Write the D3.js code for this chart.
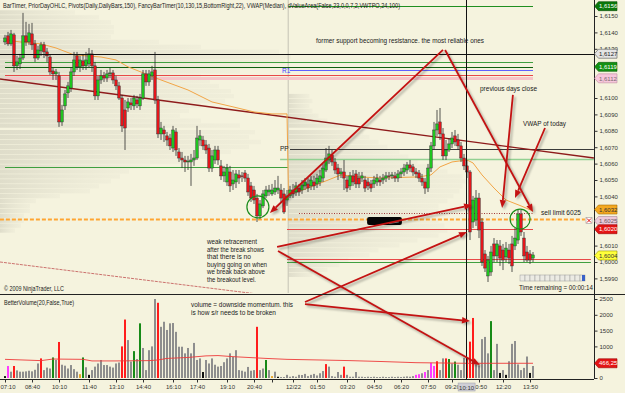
<!DOCTYPE html>
<html>
<head>
<meta charset="utf-8">
<script src="https://d3js.org/d3.v7.min.js"></script>
<style>
  body { margin: 0; background: #f5f3de; }
  svg { display: block; font-family: "Liberation Sans", Arial, sans-serif; }
</style>
</head>
<body>
<svg id="chart" width="625" height="393"></svg>
<script>
// candles: [open, high, low, close]
var candles = [
[1.61342,1.61385,1.61324,1.61366],[1.61379,1.61403,1.61318,1.61330],[1.61330,1.61415,1.61318,1.61391],[1.61385,1.61397,1.61159,1.61196],
[1.61196,1.61257,1.61171,1.61220],[1.61208,1.61269,1.61177,1.61244],[1.61244,1.61519,1.61232,1.61379],[1.61379,1.61464,1.61318,1.61342],
[1.61342,1.61452,1.61324,1.61397],[1.61391,1.61458,1.61293,1.61324],[1.61330,1.61354,1.61220,1.61244],[1.61244,1.61318,1.61232,1.61293],
[1.61287,1.61342,1.61257,1.61324],[1.61324,1.61342,1.61244,1.61281],[1.61281,1.61305,1.61220,1.61257],[1.61250,1.61263,1.61141,1.61159],
[1.61165,1.61183,1.61110,1.61147],[1.61147,1.61177,1.61110,1.61159],[1.61135,1.61159,1.60824,1.60854],[1.60854,1.60958,1.60830,1.60927],
[1.60952,1.61049,1.60927,1.61025],[1.61031,1.61098,1.61000,1.61074],[1.61061,1.61183,1.61037,1.61159],[1.61159,1.61281,1.61135,1.61232],
[1.61257,1.61281,1.61171,1.61190],[1.61190,1.61257,1.61159,1.61232],[1.61226,1.61263,1.61171,1.61196],[1.61196,1.61281,1.61171,1.61232],
[1.61208,1.61305,1.61183,1.61269],[1.61269,1.61293,1.61159,1.61196],[1.61196,1.61220,1.60988,1.61013],[1.61013,1.61135,1.60988,1.61110],
[1.61110,1.61171,1.61086,1.61135],[1.61135,1.61159,1.61098,1.61122],[1.61122,1.61171,1.61098,1.61147],[1.61147,1.61183,1.61122,1.61153],
[1.61153,1.61171,1.61086,1.61110],[1.61110,1.61135,1.61049,1.61074],[1.61074,1.61098,1.60988,1.61000],[1.61000,1.61019,1.60793,1.60830],
[1.60927,1.60988,1.60683,1.60817],[1.60939,1.61000,1.60915,1.60976],[1.60970,1.61000,1.60927,1.60958],[1.60952,1.61019,1.60927,1.61000],
[1.60988,1.61013,1.60939,1.60964],[1.60952,1.61025,1.60927,1.61000],[1.61000,1.61171,1.60988,1.61147],[1.61147,1.61171,1.61074,1.61098],
[1.61098,1.61171,1.61074,1.61147],[1.61135,1.61196,1.61110,1.61159],[1.61171,1.61281,1.60964,1.60988],[1.60988,1.61013,1.60756,1.60781],
[1.60781,1.60854,1.60744,1.60817],[1.60805,1.60830,1.60732,1.60781],[1.60769,1.60793,1.60708,1.60744],[1.60756,1.60781,1.60683,1.60708],
[1.60695,1.60830,1.60671,1.60805],[1.60793,1.60817,1.60647,1.60683],[1.60671,1.60695,1.60610,1.60634],[1.60634,1.60671,1.60573,1.60622],
[1.60622,1.60647,1.60549,1.60610],[1.60610,1.60647,1.60561,1.60616],[1.60610,1.60659,1.60464,1.60622],[1.60622,1.60683,1.60586,1.60634],
[1.60634,1.60830,1.60622,1.60756],[1.60744,1.60805,1.60708,1.60769],[1.60744,1.60769,1.60683,1.60708],[1.60714,1.60744,1.60659,1.60683],
[1.60695,1.60720,1.60549,1.60573],[1.60573,1.60683,1.60549,1.60647],[1.60622,1.60708,1.60598,1.60683],[1.60683,1.60708,1.60592,1.60622],
[1.60586,1.60622,1.60500,1.60525],[1.60525,1.60586,1.60488,1.60549],[1.60488,1.60598,1.60464,1.60573],[1.60549,1.60586,1.60427,1.60464],
[1.60476,1.60561,1.60439,1.60500],[1.60488,1.60561,1.60451,1.60537],[1.60531,1.60561,1.60476,1.60512],[1.60525,1.60549,1.60488,1.60522],
[1.60543,1.60561,1.60488,1.60512],[1.60512,1.60537,1.60403,1.60427],[1.60464,1.60488,1.60366,1.60390],[1.60439,1.60464,1.60354,1.60378],
[1.60390,1.60415,1.60244,1.60281],[1.60281,1.60378,1.60262,1.60354],[1.60342,1.60439,1.60329,1.60415],[1.60403,1.60464,1.60390,1.60439],
[1.60427,1.60470,1.60403,1.60439],[1.60415,1.60476,1.60403,1.60439],[1.60427,1.60500,1.60409,1.60451],[1.60439,1.60525,1.60415,1.60451],
[1.60439,1.60476,1.60366,1.60390],[1.60415,1.60451,1.60293,1.60305],[1.60378,1.60439,1.60342,1.60403],[1.60403,1.60464,1.60390,1.60439],
[1.60439,1.60476,1.60390,1.60415],[1.60427,1.60488,1.60403,1.60464],[1.60451,1.60476,1.60403,1.60427],[1.60439,1.60500,1.60415,1.60470],
[1.60464,1.60512,1.60439,1.60488],[1.60476,1.60512,1.60427,1.60451],[1.60464,1.60525,1.60439,1.60500],[1.60488,1.60525,1.60439,1.60464],
[1.60476,1.60537,1.60451,1.60512],[1.60488,1.60561,1.60464,1.60525],[1.60512,1.60598,1.60488,1.60573],[1.60561,1.60695,1.60549,1.60634],
[1.60622,1.60708,1.60598,1.60659],[1.60653,1.60683,1.60586,1.60610],[1.60610,1.60634,1.60537,1.60561],[1.60573,1.60598,1.60500,1.60537],
[1.60537,1.60573,1.60512,1.60549],[1.60549,1.60622,1.60439,1.60512],[1.60500,1.60525,1.60427,1.60451],[1.60464,1.60549,1.60439,1.60525],
[1.60525,1.60561,1.60464,1.60488],[1.60537,1.60561,1.60451,1.60476],[1.60512,1.60549,1.60451,1.60476],[1.60512,1.60549,1.60488,1.60525],
[1.60500,1.60525,1.60427,1.60451],[1.60488,1.60512,1.60439,1.60464],[1.60476,1.60500,1.60427,1.60451],[1.60476,1.60525,1.60451,1.60500],
[1.60488,1.60537,1.60464,1.60512],[1.60500,1.60525,1.60464,1.60488],[1.60500,1.60537,1.60476,1.60512],[1.60512,1.60549,1.60488,1.60525],
[1.60525,1.60549,1.60500,1.60522],[1.60525,1.60549,1.60506,1.60531],[1.60525,1.60549,1.60488,1.60512],[1.60512,1.60561,1.60488,1.60537],
[1.60537,1.60573,1.60512,1.60549],[1.60549,1.60598,1.60525,1.60573],[1.60561,1.60610,1.60537,1.60592],[1.60592,1.60622,1.60549,1.60573],
[1.60580,1.60598,1.60525,1.60549],[1.60549,1.60573,1.60512,1.60537],[1.60543,1.60561,1.60488,1.60512],[1.60512,1.60537,1.60464,1.60488],
[1.60488,1.60512,1.60415,1.60451],[1.60451,1.60598,1.60427,1.60573],[1.60573,1.60732,1.60549,1.60708],[1.60708,1.60854,1.60683,1.60805],
[1.60805,1.60927,1.60769,1.60842],[1.60854,1.60939,1.60744,1.60781],[1.60781,1.60817,1.60622,1.60647],[1.60647,1.60744,1.60622,1.60683],
[1.60683,1.60756,1.60671,1.60720],[1.60720,1.60793,1.60695,1.60756],[1.60769,1.60805,1.60708,1.60732],[1.60744,1.60781,1.60683,1.60708],
[1.60708,1.60732,1.60610,1.60634],[1.60634,1.60659,1.60561,1.60586],[1.60586,1.60622,1.60512,1.60549],[1.60549,1.60561,1.60134,1.60183],
[1.60244,1.60403,1.60207,1.60378],[1.60256,1.60439,1.60220,1.60390],[1.60390,1.60421,1.60146,1.60195],[1.60244,1.60268,1.59976,1.60000],
[1.60049,1.60073,1.59939,1.59963],[1.59915,1.60037,1.59878,1.60012],[1.59939,1.60098,1.59915,1.60061],[1.60110,1.60146,1.60000,1.60037],
[1.60037,1.60134,1.60000,1.60110],[1.60098,1.60134,1.59976,1.60024],[1.60073,1.60110,1.59951,1.60012],[1.60031,1.60122,1.60000,1.60085],
[1.60073,1.60110,1.59988,1.60024],[1.60110,1.60159,1.59939,1.59976],[1.60098,1.60207,1.60073,1.60146],[1.60134,1.60317,1.60110,1.60293],
[1.60293,1.60317,1.60159,1.60183],[1.60146,1.60183,1.60000,1.60037],[1.60061,1.60098,1.60000,1.60012],[1.60049,1.60073,1.59988,1.60012],
[1.60024,1.60061,1.60000,1.60043]
];

var volumes = [
60,380,200,380,240,200,200,210,230,210, 260,460,620,250,330,300,650,570,1140,420,
390,300,410,280,200,120,650,340,100,250, 360,460,570,410,410,360,330,460,490,1000,
1850,1200,520,850,600,1730,950,250,880,1000, 2500,2380,1620,1780,1520,1730,1740,1460,990,990,
780,950,780,1110,570,620,190,570,460,620, 420,360,380,500,620,780,670,880,250,230,
200,350,230,250,1620,250,300,570,250,60, 200,40,30,30,100,40,60,40,100,95,
130,60,100,130,80,150,220,440,360,60, 40,190,100,360,100,40,40,190,40,40,
30,40,30,40,30,30,40,30,30,40, 30,40,30,40,50,40,60,100,120,150,
190,250,480,380,530,250,620,620,600,460, 520,420,250,640,650,1150,1900,430,400,1230,
1300,780,1800,250,1080,160,250,100,530,1080, 1170,430,250,320,680,160,380
];

// BetterVolume bar type: n neutral, r red, g green, k black, m magenta, o orange
var volumeKinds = [
"k","m","n","r","n","n","n","n","n","n", "n","n","r","n","n","n","g","n","r","n",
"n","n","n","n","n","o","g","n","k","n", "n","n","n","n","n","n","n","n","n","r",
"r","n","n","g","n","g","n","n","n","n", "n","r","n","n","n","n","n","n","n","n",
"n","n","n","n","n","n","k","n","n","n", "n","n","n","n","n","n","n","n","n","n",
"n","n","n","n","r","n","n","g","n","o", "n","k","n","n","n","n","n","n","n","n",
"n","n","n","n","n","n","n","r","n","n", "n","n","n","r","n","n","n","n","n","n",
"n","n","n","n","n","n","n","n","n","n", "n","n","n","n","n","n","n","m","m","n",
"m","n","m","m","r","n","n","r","g","n", "g","n","n","n","r","r","r","n","n","n",
"n","n","g","n","n","k","n","k","n","n", "n","n","n","n","n","k","n"
];

// [bar, volume] points of the volume average
var volumeAverage = [[0,590],[12,550],[16,600],[26,590],[29,540],[37,540],[48,550],[51,570],[54,620],[61,650],
  [67,700],[71,710],[76,675],[83,640],[87,620],[94,590],[105,570],[115,550],[126,520],[137,485],[154,465],[176,466]];

// [bar, price] points of the session VWAP
var vwapDay1 = [[0,1.61354],[5,1.61342],[12,1.61330],[17,1.61305],[23,1.61263],[32,1.61250],[37,1.61232],[41,1.61190],
  [52,1.61110],[61,1.61049],[69,1.60976],[76,1.60946],[83,1.60915],[89,1.60903],[94,1.60903]];
var vwapDay2 = [[94.5,1.60409],[101,1.60451],[112,1.60531],[118,1.60519],[125,1.60512],[138,1.60519],[142,1.60531],
  [145,1.60580],[149,1.60610],[154,1.60622],[156,1.60604],[159,1.60531],[163,1.60451],[167,1.60378],[172,1.60342],[176,1.60311]];

// value area profile rows: [price, tpo count]
var profileDay1 = [[1.6152,25],[1.6149,33],[1.6146,37],[1.6143,38],[1.6140,38],[1.6137,37],[1.6134,53],[1.6131,67],
  [1.6128,93],[1.6125,97],[1.6122,95],[1.6119,90],[1.6116,80],[1.6113,67],[1.6110,70],[1.6107,73],[1.6104,77],
  [1.6101,78],[1.6098,75],[1.6095,67],[1.6092,63],[1.6089,60],[1.6086,67],[1.6083,80],[1.6079,85],[1.6076,83],
  [1.6073,87],[1.6070,83],[1.6067,77],[1.6064,70],[1.6061,60],[1.6058,50],[1.6055,43],[1.6052,40],[1.6049,37],
  [1.6046,33],[1.6043,30],[1.6040,20],[1.6037,12],[1.6034,10],[1.6031,10],[1.6028,8],[1.6025,8],[1.6022,7],[1.6019,5]];
var profileDay2 = [[1.6101,7],[1.6098,8],[1.6095,7],[1.6092,8],[1.6089,10],[1.6086,13],[1.6083,20],[1.6079,25],
  [1.6076,27],[1.6073,30],[1.6070,33],[1.6067,37],[1.6064,40],[1.6061,43],[1.6058,50],[1.6055,53],[1.6052,58],
  [1.6049,60],[1.6046,58],[1.6043,57],[1.6040,55],[1.6037,53],[1.6034,50],[1.6031,50],[1.6028,48],[1.6025,50],
  [1.6022,52],[1.6019,53],[1.6016,50],[1.6013,43],[1.6010,37],[1.6007,30],[1.6004,27],[1.6001,20],[1.5998,17],
  [1.5995,13],[1.5992,8]];

var timeLabels = ["07:10","08:40","10:10","11:40","13:10","14:40","16:10","17:40","19:10","20:40","","12/22",
  "01:50","03:20","04:50","06:20","07:50","09:20","10:50","12:20","13:50"];
var timeIndex = [0,9,18,28,37,46,56,64,74,83,89,96,104,114,123,132,141,149,158,166,175];

// labels hidden behind the price tags are left out
var priceTicks = [1.599,1.600,1.601,1.604,1.605,1.606,1.607,1.608,1.609,1.610,1.613,1.614,1.615];
var volumeTicks = [0,1000,1500,2000,2500];

// horizontal levels: price, first bar, last bar, kind
var levels = [
  {p:1.6156, from:94.5, to:176, kind:"priorHigh"},
  {p:1.6122, from:0, to:176, kind:"green"},
  {p:1.6119, from:0, to:176, kind:"darkGreen"},
  {p:1.6117, from:95, to:176, kind:"r1"},
  {p:1.6114, from:0, to:176, kind:"red"},
  {p:1.6112, from:0, to:176, kind:"pink"},
  {p:1.6069, from:95, to:196.3, kind:"pp"},
  {p:1.6063, from:91.7, to:196.3, kind:"lightGreen"},
  {p:1.6058, from:0, to:94.3, kind:"green"},
  {p:1.6030, from:98, to:176, kind:"prevClose"},
  {p:1.6026, from:-1.7, to:193.3, kind:"order"},
  {p:1.6020, from:94, to:176, kind:"red"},
  {p:1.6002, from:94, to:195.3, kind:"red"},
  {p:1.6000, from:94, to:195.3, kind:"green"}
];

var trendLines = [
  {a:[-1.67,1.61116], b:[196.3,1.60634], kind:"trend"},
  {a:[-1.67,1.60000], b:[95,1.59780], kind:"channel"}
];

var tags = [
  {p:1.6156, text:"1,6156", kind:"high"},
  {p:1.6127, text:"1,6127", kind:"cross"},
  {p:1.6119, text:"1,6119", kind:"level"},
  {p:1.6112, text:"1,6112", kind:"pink"},
  {p:1.6032, text:"1,6032", kind:"vwap"},
  {p:1.6025, text:"1,6025", kind:"order"},
  {p:1.6020, text:"1,6020", kind:"low"},
  {p:1.6004, text:"1,6004", kind:"last"}
];

var crossBar = 153.7, crossPrice = 1.6127, crossLabel = "10:10";
var lastVolumeAverage = "466,25";

// drawing objects anchored on bar / price (or bar / volume)
var arrows = [
  {from:{i:146,p:1.61293}, to:{i:88.3,p:1.60299}},
  {from:{i:146.7,p:1.61293}, to:{i:176,p:1.60305}},
  {from:{i:169.3,p:1.61019}, to:{i:165.7,p:1.60329}},
  {from:{i:180,p:1.60817}, to:{i:170,p:1.60390}},
  {from:{i:90.7,p:1.60092}, to:{i:155.7,p:1.60348}},
  {from:{i:100,v:2405}, to:{i:154,p:1.60183}},
  {from:{i:91,p:1.60067}, to:{i:158.3,v:411}},
  {from:{i:100,v:2340}, to:{i:155,v:1800}}
];
var rings = [{i:84.3, p:1.60336}, {i:171.7, p:1.60262}];
var blot = {i0:120.7, i1:132.3, p0:1.60274, p1:1.60226};

// ---------- layout ----------
var svgWidth = 625, svgHeight = 393;
var axisX = 594, priceBottom = 293, volTop = 299, volBottom = 378;

var x = d3.scaleLinear().domain([0, candles.length - 1]).range([5, 533]);
var y = d3.scaleLinear().domain([1.59811, 1.615976]).range([priceBottom, 0]);
var yVol = d3.scaleLinear().domain([0, 2500]).range([volBottom, volTop]);
var profW = d3.scaleLinear().domain([0, 100]).range([0, 300]);

var svg = d3.select("#chart");
svg.append("rect").attr("width", svgWidth).attr("height", svgHeight).attr("fill", "#f5f3de");

var defs = svg.append("defs");
defs.append("clipPath").attr("id", "clipP").append("rect")
  .attr("x", 0).attr("y", 0).attr("width", axisX).attr("height", priceBottom);
defs.append("clipPath").attr("id", "clipV").append("rect")
  .attr("x", 0).attr("y", 295).attr("width", axisX).attr("height", volBottom - 295);
var grad = defs.append("linearGradient").attr("id", "prof");
grad.append("stop").attr("offset", "0%").attr("stop-color", "#c4c2b2").attr("stop-opacity", 0.45);
grad.append("stop").attr("offset", "100%").attr("stop-color", "#d6d4c4").attr("stop-opacity", 0.15);
defs.append("filter").attr("id", "blur").append("feGaussianBlur").attr("stdDeviation", 0.9);

var priceGroup = svg.append("g").attr("clip-path", "url(#clipP)");
var volGroup = svg.append("g").attr("clip-path", "url(#clipV)");

// value area profiles
function drawProfile(rows, startBar) {
  var x0 = x(startBar);
  var h = y(1.6) - y(1.6003);
  priceGroup.append("g").selectAll("rect").data(rows).enter().append("rect")
    .attr("x", x0)
    .attr("y", d => y(d[0]) - h / 2)
    .attr("width", d => profW(d[1]))
    .attr("height", h - 0.6)
    .attr("fill", "url(#prof)");
}
drawProfile(profileDay1, -1.67);
drawProfile(profileDay2, 94.5);

// session break
priceGroup.append("line")
  .attr("x1", x(94.4)).attr("x2", x(94.4)).attr("y1", 0).attr("y2", priceBottom)
  .attr("stroke", "#c4c2b4").attr("stroke-width", 1);

// levels
var levelStyle = {
  priorHigh: {c:"#1f8f1f", w:1.2},
  green: {c:"#3f9f3f", w:1},
  darkGreen: {c:"#0f5f0f", w:1.2},
  r1: {c:"#6060ff", w:1.2},
  red: {c:"#e84848", w:1},
  pink: {c:"#f6c4c8", w:3},
  pp: {c:"#3a3a3a", w:1},
  lightGreen: {c:"#92d092", w:1.3},
  prevClose: {c:"#a03838", w:1, dash:"1,1.5"},
  order: {c:"#ffa531", w:2.2, dash:"4,2"}
};
levels.forEach(function(l) {
  var s = levelStyle[l.kind];
  priceGroup.append("line")
    .attr("x1", x(l.from)).attr("x2", x(l.to))
    .attr("y1", Math.round(y(l.p)) + 0.5).attr("y2", Math.round(y(l.p)) + 0.5)
    .attr("stroke", s.c).attr("stroke-width", s.w)
    .attr("stroke-dasharray", s.dash || null);
});
svg.append("text").attr("x", 282).attr("y", y(1.6117) + 2.5).attr("font-size", 6.5)
  .attr("fill", "#4040ff").text("R1");
svg.append("text").attr("x", 280).attr("y", y(1.6069) + 2.5).attr("font-size", 6.5)
  .attr("fill", "#222").text("PP");

// trend lines
trendLines.forEach(function(t) {
  priceGroup.append("line")
    .attr("x1", x(t.a[0])).attr("y1", y(t.a[1]))
    .attr("x2", x(t.b[0])).attr("y2", y(t.b[1]))
    .attr("stroke", t.kind == "trend" ? "#8e1b1b" : "#c05050")
    .attr("stroke-width", t.kind == "trend" ? 1.4 : 0.8)
    .attr("stroke-dasharray", t.kind == "trend" ? null : "3,1");
});

// VWAP
var line = d3.line().x(d => x(d[0])).y(d => y(d[1]));
priceGroup.append("path").datum(vwapDay1.concat(vwapDay2))
  .attr("d", line).attr("fill", "none").attr("stroke", "#f2a546").attr("stroke-width", 1);

// redaction blot
priceGroup.append("rect")
  .attr("x", x(blot.i0)).attr("y", y(blot.p0))
  .attr("width", x(blot.i1) - x(blot.i0)).attr("height", y(blot.p1) - y(blot.p0))
  .attr("rx", 2).attr("fill", "#050505");
priceGroup.append("line")
  .attr("x1", x(blot.i0) + 22).attr("x2", x(blot.i1) - 3)
  .attr("y1", y(blot.p1) - 1.5).attr("y2", y(blot.p1) - 3)
  .attr("stroke", "#ddd").attr("stroke-width", 0.6);

// candles
var cg = priceGroup.append("g");
cg.selectAll("line").data(candles).enter().append("line")
  .attr("x1", (d, i) => x(i)).attr("x2", (d, i) => x(i))
  .attr("y1", d => y(d[1])).attr("y2", d => y(d[2]))
  .attr("stroke", "#2b2b2b").attr("stroke-width", 0.8);
cg.selectAll("rect").data(candles).enter().append("rect")
  .attr("x", (d, i) => x(i) - 1.3).attr("width", 2.6)
  .attr("y", d => y(Math.max(d[0], d[3])))
  .attr("height", d => Math.max(0.8, Math.abs(y(d[0]) - y(d[3]))))
  .attr("fill", d => d[3] >= d[0] ? "#1fc41f" : "#e3161b")
  .attr("stroke", "#333").attr("stroke-width", 0.45);

// volume bars
var volColor = {n:"#8e8e8e", r:"#ff1c1c", g:"#178a17", k:"#111", m:"#ff3cff", o:"#e8a428"};
volGroup.selectAll("rect").data(volumes).enter().append("rect")
  .attr("x", (d, i) => x(i) - 1).attr("width", 2)
  .attr("y", d => yVol(d)).attr("height", d => yVol(0) - yVol(d))
  .attr("fill", (d, i) => volColor[volumeKinds[i]]);
volGroup.append("path").datum(volumeAverage)
  .attr("d", d3.line().x(d => x(d[0])).y(d => yVol(d[1])))
  .attr("fill", "none").attr("stroke", "#ee3a3a").attr("stroke-width", 0.9);

// crosshair
svg.append("line").attr("x1", 0).attr("x2", axisX)
  .attr("y1", Math.round(y(crossPrice)) + 0.5).attr("y2", Math.round(y(crossPrice)) + 0.5)
  .attr("stroke", "#111").attr("stroke-width", 1);
svg.append("line").attr("x1", Math.round(x(crossBar)) + 0.5).attr("x2", Math.round(x(crossBar)) + 0.5)
  .attr("y1", 0).attr("y2", volBottom + 1)
  .attr("stroke", "#111").attr("stroke-width", 1);

// rings
priceGroup.selectAll("circle").data(rings).enter().append("circle")
  .attr("cx", d => x(d.i)).attr("cy", d => y(d.p)).attr("r", (d, k) => k == 0 ? 11 : 10)
  .attr("fill", "none").attr("stroke", "#1b8c1b").attr("stroke-width", 1.2);

// arrows
function anchor(a) { return [x(a.i), a.p !== undefined ? y(a.p) : yVol(a.v)]; }
var shadowG = svg.append("g").attr("filter", "url(#blur)");
var arrowG = svg.append("g");
arrows.forEach(function(a) {
  var p0 = anchor(a.from), p1 = anchor(a.to);
  var ang = Math.atan2(p1[1] - p0[1], p1[0] - p0[0]);
  var len = 8, half = 3.2;
  var bx = p1[0] - len * Math.cos(ang), by = p1[1] - len * Math.sin(ang);
  var head = [p1, [bx + half * Math.sin(ang), by - half * Math.cos(ang)], [bx - half * Math.sin(ang), by + half * Math.cos(ang)]];
  shadowG.append("line").attr("x1", p0[0] + 2).attr("y1", p0[1] + 2).attr("x2", bx + 2).attr("y2", by + 2)
    .attr("stroke", "rgba(0,0,0,0.28)").attr("stroke-width", 2);
  shadowG.append("polygon").attr("points", head.map(p => (p[0] + 2) + "," + (p[1] + 2)).join(" "))
    .attr("fill", "rgba(0,0,0,0.28)");
  arrowG.append("line").attr("x1", p0[0]).attr("y1", p0[1]).attr("x2", bx).attr("y2", by)
    .attr("stroke", "#c41212").attr("stroke-width", 1.8);
  arrowG.append("polygon").attr("points", head.map(p => p.join(",")).join(" "))
    .attr("fill", "#c41212");
});

// texts
svg.append("text").attr("x", 3).attr("y", 8).attr("font-size", 6.6).attr("fill", "#1a1a1a")
  .attr("textLength", 397).attr("lengthAdjust", "spacingAndGlyphs")
  .text("BarTimer, PriorDayOHLC, Pivots(Daily,DailyBars,150), FancyBarTimer(10,130,15,BottomRight,22), VWAP(Median), dValueArea(False,23,0,0,7,2,VWTPO,24,100)");

var notes = [
  {x:316, y:43, t:"former support becoming resistance. the most reliable ones", w:168},
  {x:480, y:91, t:"previous days close", w:57},
  {x:523, y:126, t:"VWAP of today", w:43},
  {x:541, y:215, t:"sell limit 6025", w:40},
  {x:207, y:244, t:"weak retracement", w:50},
  {x:207, y:251.6, t:"after the break shows", w:57},
  {x:207, y:259.2, t:"that there is no", w:44},
  {x:207, y:266.8, t:"buying going on when", w:60},
  {x:207, y:274.4, t:"we break back above", w:58},
  {x:207, y:282, t:"the breakout level.", w:49},
  {x:191, y:307, t:"volume = downside momentum. this", w:102},
  {x:191, y:315, t:"is how s/r needs to be broken", w:85},
  {x:4, y:291, t:"\u00a9 2009 NinjaTrader, LLC", w:60},
  {x:4, y:305, t:"BetterVolume(20,False,True)", w:70},
  {x:519, y:289.5, t:"Time remaining = 00:00:14", w:74}
];
svg.append("g").selectAll("text").data(notes).enter().append("text")
  .attr("x", d => d.x).attr("y", d => d.y)
  .attr("font-size", 7).attr("fill", "#1a1a1a")
  .attr("textLength", d => d.w).attr("lengthAdjust", "spacingAndGlyphs")
  .text(d => d.t);

// bar timer
var timer = svg.append("g");
d3.range(13).forEach(function(k) {
  timer.append("rect").attr("x", 520 + k * 5).attr("y", 275).attr("width", 5).attr("height", 6)
    .attr("fill", "#ecebe4").attr("stroke", "#9a9a9a").attr("stroke-width", 0.5);
});
timer.append("rect").attr("x", 582).attr("y", 275).attr("width", 3).attr("height", 6).attr("fill", "#3a62c8");

// frame lines
svg.append("line").attr("x1", 0).attr("x2", svgWidth).attr("y1", 294.5).attr("y2", 294.5)
  .attr("stroke", "#222").attr("stroke-width", 1);
svg.append("line").attr("x1", axisX + 0.5).attr("x2", axisX + 0.5).attr("y1", 0).attr("y2", volBottom + 1)
  .attr("stroke", "#222").attr("stroke-width", 1);
svg.append("line").attr("x1", 0).attr("x2", axisX).attr("y1", volBottom + 1.5).attr("y2", volBottom + 1.5)
  .attr("stroke", "#222").attr("stroke-width", 1);

// axes
var fmtPrice = d => d3.format(".4f")(d).replace(".", ",");
function styleAxis(g) {
  g.select(".domain").remove();
  g.selectAll("line").attr("stroke", "#333");
  g.selectAll("text").attr("font-size", 6).attr("fill", "#333")
    .attr("font-family", "Liberation Sans, Arial, sans-serif");
}
svg.append("g").attr("transform", "translate(" + (axisX + 0.5) + ",0)")
  .call(d3.axisRight(y).tickValues(priceTicks).tickSize(3).tickPadding(2).tickFormat(fmtPrice))
  .call(styleAxis);
svg.append("g").attr("transform", "translate(" + (axisX + 0.5) + ",0)")
  .call(d3.axisRight(yVol).tickValues(volumeTicks).tickSize(3).tickPadding(2).tickFormat(d3.format("d")))
  .call(styleAxis);
var bottomAxis = svg.append("g").attr("transform", "translate(0," + (volBottom + 1.5) + ")")
  .call(d3.axisBottom(x).tickValues(timeIndex).tickSize(3).tickPadding(2).tickFormat((d, k) => timeLabels[k]))
  .call(styleAxis);
// first label sits against the left edge
bottomAxis.selectAll(".tick text").filter((d, k) => k == 0).attr("text-anchor", "start").attr("x", -5);

// crosshair time label
var cx = x(crossBar);
svg.append("rect").attr("x", cx - 8).attr("y", 383).attr("width", 17).attr("height", 8)
  .attr("fill", "#cfcfd6").attr("stroke", "#9a9aa6").attr("stroke-width", 0.5);
svg.append("text").attr("x", cx + 0.5).attr("y", 389.5).attr("text-anchor", "middle")
  .attr("font-size", 6).attr("fill", "#333").text(crossLabel);

// price tags
var tagStyle = {
  high: {fill:"#0b780b", text:"#fff", stroke:"#064d06"},
  cross: {fill:"#e4e4e4", text:"#222", stroke:"#555"},
  level: {fill:"#139113", text:"#fff", stroke:"#0a5a0a"},
  pink: {fill:"#f7c6dc", text:"#7a6a70", stroke:"#c08aa0"},
  vwap: {fill:"#f4a820", text:"#333", stroke:"#a86e00"},
  order: {fill:"#ecc9da", text:"#6a5a60", stroke:"#a88898"},
  low: {fill:"#e41414", text:"#fff", stroke:"#900"},
  last: {fill:"#ffff3a", text:"#333", stroke:"#999900"}
};
function drawTag(yc, text, s) {
  var g = svg.append("g");
  var pts = [[axisX + 0.5, yc], [axisX + 4.5, yc - 4.5], [axisX + 23, yc - 4.5], [axisX + 23, yc + 4.5], [axisX + 4.5, yc + 4.5]];
  g.append("polygon").attr("points", pts.map(p => p.join(",")).join(" "))
    .attr("fill", s.fill).attr("stroke", s.stroke).attr("stroke-width", 0.6);
  g.append("text").attr("x", axisX + 5).attr("y", yc + 2.2).attr("font-size", 6)
    .attr("fill", s.text).text(text);
}
tags.forEach(t => drawTag(y(t.p), t.text, tagStyle[t.kind]));
drawTag(yVol(466.25), lastVolumeAverage, tagStyle.low);

// cancel box on the order tag
var oy = y(1.6025);
svg.append("rect").attr("x", 586).attr("y", oy - 3.5).attr("width", 6).attr("height", 6)
  .attr("fill", "#fff").attr("stroke", "#888").attr("stroke-width", 0.5);
svg.append("path").attr("d", "M587,"+(oy-2.5)+"L591,"+(oy+1.5)+"M591,"+(oy-2.5)+"L587,"+(oy+1.5))
  .attr("stroke", "#e01010").attr("stroke-width", 1);
</script>
</body>
</html>
